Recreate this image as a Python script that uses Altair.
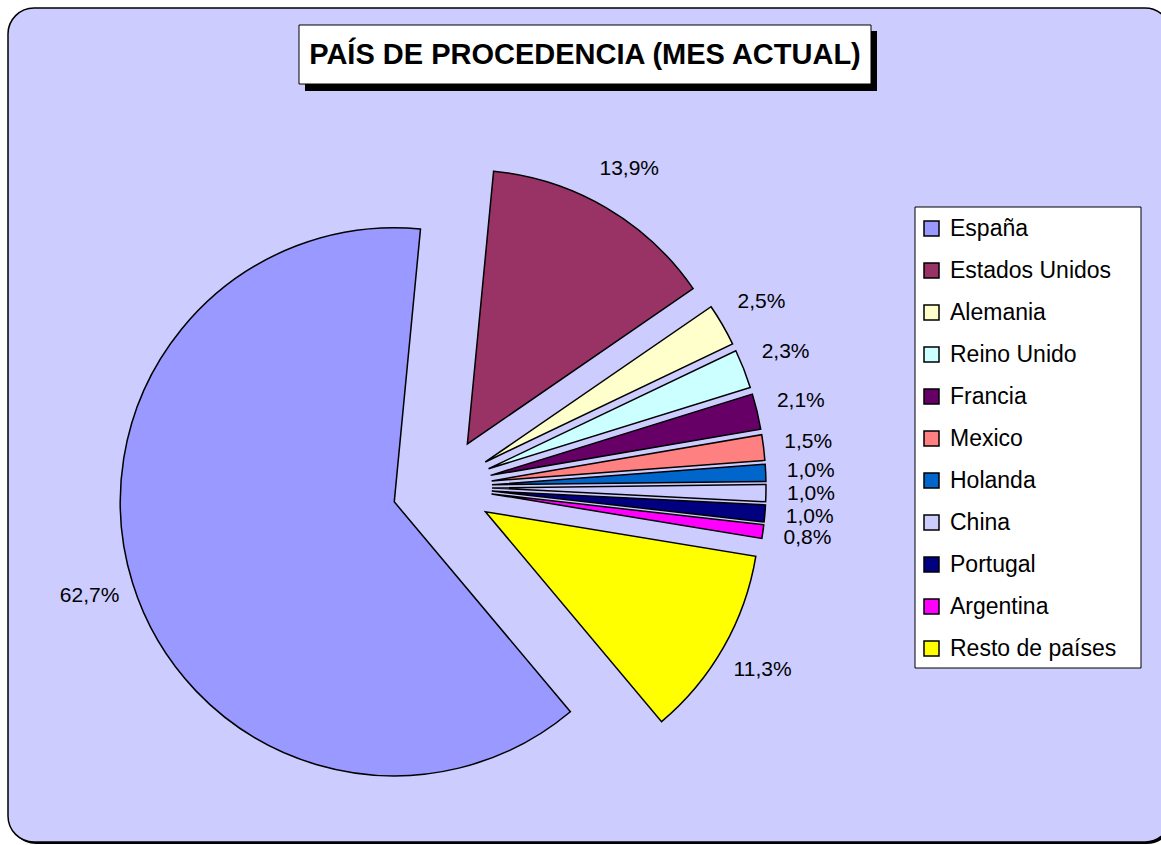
import altair as alt
import pandas as pd

# ---- data ----
paises = ["España", "Estados Unidos", "Alemania", "Reino Unido", "Francia", "Mexico",
          "Holanda", "China", "Portugal", "Argentina", "Resto de países"]
porcentajes = [62.7, 13.9, 2.5, 2.3, 2.1, 1.5, 1.0, 1.0, 1.0, 0.8, 11.3]
colores = ["#9999FF", "#993366", "#FFFFCC", "#CCFFFF", "#660066", "#FF8080",
           "#0066CC", "#CCCCFF", "#000080", "#FF00FF", "#FFFF00"]
titulo = "PAÍS DE PROCEDENCIA (MES ACTUAL)"

df = pd.DataFrame({"pais": paises, "pct": porcentajes, "orden": list(range(len(paises)))})

# ---- layout params (view coordinates, origin at 8,8 of page) ----
START_DEG = 140.0      # angle of first slice, clockwise from 12 o'clock
CX, CY = 434, 479      # pie centre
EXPLODE = 50           # explosion distance
R = 274                # pie radius
RL = 319               # label distance from slice apex
VIEW_W = 1153

blank = alt.Data(values=[{}])

bg_shadow = alt.Chart(blank).mark_rect(fill="black", cornerRadius=26).encode(
    x=alt.value(2), x2=alt.value(VIEW_W + 12), y=alt.value(2), y2=alt.value(836))
bg = alt.Chart(blank).mark_rect(fill="#CCCCFF", stroke="black", strokeWidth=1.5,
                                cornerRadius=26).encode(
    x=alt.value(0), x2=alt.value(VIEW_W + 10), y=alt.value(0), y2=alt.value(834))

title_shadow = alt.Chart(blank).mark_rect(fill="black").encode(
    x=alt.value(297), x2=alt.value(869), y=alt.value(23), y2=alt.value(83))
title_box = alt.Chart(blank).mark_rect(fill="white", stroke="black", strokeWidth=1).encode(
    x=alt.value(291), x2=alt.value(863), y=alt.value(17), y2=alt.value(76))
title_text = alt.Chart(blank).mark_text(
    text=titulo, font="Liberation Sans", fontWeight="bold", fontSize=29,
    color="black", align="center", baseline="middle"
).encode(x=alt.value(577), y=alt.value(47))

legend_box = alt.Chart(blank).mark_rect(fill="white", stroke="black", strokeWidth=1).encode(
    x=alt.value(907), x2=alt.value(1133), y=alt.value(199), y2=alt.value(660))

base = alt.Chart(df).transform_window(
    cum="sum(pct)", sort=[alt.SortField("orden")], frame=[None, 0]
).transform_joinaggregate(
    total="sum(pct)"
).transform_calculate(
    a1=f"{START_DEG}*PI/180 + 2*PI*datum.cum/datum.total"
).transform_calculate(
    a0="datum.a1 - 2*PI*datum.pct/datum.total"
).transform_calculate(
    mid="(datum.a0 + datum.a1)/2"
).transform_calculate(
    px=f"{CX} + {EXPLODE}*sin(datum.mid)",
    py=f"{CY} - {EXPLODE}*cos(datum.mid)",
).transform_calculate(
    lx=f"datum.px + {RL}*sin(datum.mid)",
    ly=f"datum.py - {RL}*cos(datum.mid)",
    etiqueta="replace(format(datum.pct, '.1f'), '.', ',') + '%'",
)

arcs = base.mark_arc(radius=R, stroke="black", strokeWidth=1.5, strokeJoin="miter").encode(
    theta=alt.Theta("a0:Q", scale=None, stack=None),
    theta2=alt.Theta2("a1:Q"),
    x=alt.X("px:Q", scale=None, axis=None),
    y=alt.Y("py:Q", scale=None, axis=None),
    color=alt.Color("pais:N", sort=paises,
                    scale=alt.Scale(domain=paises, range=colores),
                    legend=alt.Legend(title=None, orient="none", legendX=912, legendY=209,
                                      symbolType="square", symbolSize=225,
                                      symbolStrokeColor="black", symbolStrokeWidth=1.5,
                                      symbolOpacity=1,
                                      labelFont="Liberation Sans", labelFontSize=23,
                                      labelColor="black", labelOffset=7, labelLimit=400,
                                      rowPadding=18, padding=0)),
)

labels = base.mark_text(font="Liberation Sans", fontSize=21, color="black",
                        align="center", baseline="middle").encode(
    x=alt.X("lx:Q", scale=None, axis=None),
    y=alt.Y("ly:Q", scale=None, axis=None),
    text="etiqueta:N",
)

chart = alt.layer(
    bg_shadow, bg, title_shadow, title_box, title_text, legend_box, arcs, labels
).properties(
    width=VIEW_W, height=835,
    padding={"left": 8, "top": 8, "right": 0, "bottom": 2},
    autosize="none",
).configure(
    background="white",
).configure_view(
    stroke=None, fill=None,
)

chart.save("out.html", embed_options={"renderer": "svg", "actions": False})
